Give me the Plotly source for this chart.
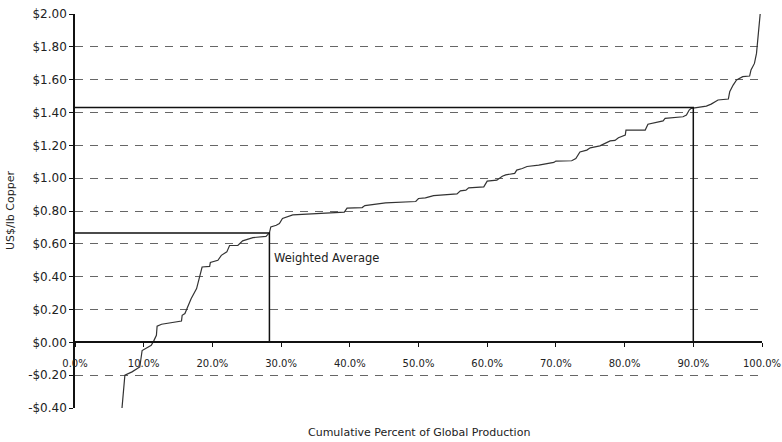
import plotly.graph_objects as go

# Cost curve: cumulative % of global production vs cash cost (US$/lb)
cum_pct = [6.8, 7.0, 7.26, 8.3, 9.43, 9.77, 11.1, 11.5, 11.85, 11.95, 12.6, 15.5, 15.6, 16.0,
           16.9, 17.7, 18.1, 18.5, 19.6, 19.7, 20.8, 21.3, 22.1, 22.5, 23.7, 24.4, 25.9, 26.9,
           27.8, 28.3, 28.5, 29.3, 29.75, 30.2, 31.0, 31.7, 39.2, 39.6, 41.8, 42.2, 45.2, 49.6,
           50.0, 51.0, 52.2, 53.9, 55.6, 56.1, 56.9, 57.3, 59.5, 60.0, 61.4, 62.2, 62.7, 64.0,
           64.3, 65.1, 65.8, 67.5, 69.7, 70.0, 72.3, 72.9, 73.5, 74.5, 75.0, 76.4, 77.2, 77.9,
           78.6, 79.1, 80.1, 80.2, 83.0, 83.4, 85.6, 85.9, 88.5, 89.0, 89.4, 89.7, 90.7, 91.9,
           92.6, 93.6, 95.1, 95.3, 95.8, 96.3, 97.2, 98.2, 98.4, 98.9, 99.2, 99.3, 99.6, 99.8]
cost = [-0.42, -0.33, -0.20, -0.18, -0.15, -0.05, -0.018, 0.012, 0.043, 0.098, 0.11, 0.13, 0.165, 0.175,
        0.266, 0.327, 0.398, 0.459, 0.463, 0.486, 0.50, 0.53, 0.551, 0.59, 0.59, 0.618, 0.638, 0.642,
        0.645, 0.667, 0.703, 0.713, 0.724, 0.754, 0.768, 0.776, 0.793, 0.817, 0.821, 0.833, 0.849, 0.858,
        0.876, 0.880, 0.894, 0.90, 0.904, 0.923, 0.927, 0.941, 0.947, 0.982, 0.988, 1.012, 1.02, 1.029,
        1.049, 1.059, 1.071, 1.079, 1.096, 1.104, 1.106, 1.12, 1.16, 1.171, 1.185, 1.197, 1.211, 1.227,
        1.23, 1.246, 1.262, 1.293, 1.293, 1.329, 1.349, 1.364, 1.374, 1.384, 1.415, 1.425, 1.431, 1.439,
        1.451, 1.476, 1.482, 1.526, 1.567, 1.598, 1.618, 1.622, 1.659, 1.699, 1.76, 1.81, 1.923, 2.03]

wavg_pct, wavg_cost = 28.3, 0.666
p90_pct, p90_cost = 90.0, 1.43

x_tickvals = [0, 10, 20, 30, 40, 50, 60, 70, 80, 90, 100]
x_ticktext = ["0.0%", "10.0%", "20.0%", "30.0%", "40.0%", "50.0%", "60.0%", "70.0%", "80.0%", "90.0%", "100.0%"]
y_tickvals = [-0.4, -0.2, 0.0, 0.2, 0.4, 0.6, 0.8, 1.0, 1.2, 1.4, 1.6, 1.8, 2.0]
y_ticktext = ["-$0.40", "-$0.20", "$0.00", "$0.20", "$0.40", "$0.60", "$0.80", "$1.00",
              "$1.20", "$1.40", "$1.60", "$1.80", "$2.00"]

FONT = "DejaVu Sans"
TXT = "#222222"

fig = go.Figure()
fig.add_trace(go.Scatter(x=cum_pct, y=cost, mode="lines",
                         line=dict(color="#333333", width=1.2), hoverinfo="skip"))
fig.add_trace(go.Scatter(x=[0, wavg_pct, wavg_pct], y=[wavg_cost, wavg_cost, 0], mode="lines",
                         line=dict(color="#111111", width=1.5), hoverinfo="skip"))
fig.add_trace(go.Scatter(x=[0, p90_pct, p90_pct], y=[p90_cost, p90_cost, 0], mode="lines",
                         line=dict(color="#111111", width=1.5), hoverinfo="skip"))

ymin, ymax = -0.4, 2.0
fig.update_layout(
    width=782, height=442,
    margin=dict(l=75, r=20, t=14, b=34, autoexpand=False),
    paper_bgcolor="white", plot_bgcolor="white",
    showlegend=False,
    font=dict(family=FONT, size=11, color=TXT),
    xaxis=dict(range=[0, 100], anchor="free", position=(0 - ymin) / (ymax - ymin),
               tickvals=x_tickvals, ticktext=x_ticktext, automargin=False,
               showgrid=False, zeroline=False,
               showline=True, linecolor="#111111", linewidth=1.5,
               ticks="outside", ticklen=4, tickcolor="#111111",
               ticklabelstandoff=8, ticklabeloverflow="allow",
               tickfont=dict(family=FONT, size=10, color=TXT)),
    yaxis=dict(range=[ymin, ymax], tickvals=y_tickvals, ticktext=y_ticktext, automargin=False,
               showgrid=True, gridcolor="#666666", gridwidth=1, griddash="8px,7px",
               zeroline=True, zerolinecolor="#111111", zerolinewidth=1.5,
               showline=True, linecolor="#111111", linewidth=1.5,
               ticks="outside", ticklen=4, tickcolor="#111111",
               tickfont=dict(family=FONT, size=12, color=TXT)),
    annotations=[
        dict(text="Cumulative Percent of Global Production", xref="paper", yref="paper",
             x=0.5, y=0, xanchor="center", yanchor="middle", yshift=-24, showarrow=False,
             font=dict(family=FONT, size=11, color=TXT)),
        dict(text="US$/lb Copper", xref="paper", yref="paper", x=0, y=0.5,
             xanchor="center", yanchor="middle", xshift=-65, textangle=-90, showarrow=False,
             font=dict(family=FONT, size=11, color=TXT)),
        dict(text="Weighted Average", xref="x", yref="y", x=wavg_pct + 0.4, y=0.512,
             xanchor="left", yanchor="middle", showarrow=False,
             font=dict(family=FONT, size=11.5, color=TXT)),
    ],
)

fig.write_html("out.html", config={"displayModeBar": False},
               post_script="document.body.style.margin='0';")
